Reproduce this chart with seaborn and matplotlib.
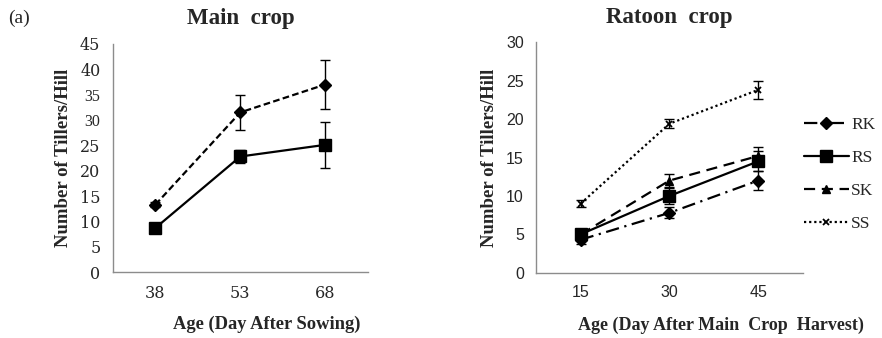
import numpy as np
import pandas as pd
import matplotlib
matplotlib.use("Agg")
import matplotlib.pyplot as plt
import seaborn as sns

# ================= DATA =================
main_days = [38, 53, 68]
main_series = ["RK", "RS"]
main_mean = {"RK": [13.3, 31.5, 37.0], "RS": [8.7, 22.8, 25.1]}
main_err = {"RK": [0.5, 3.5, 4.9], "RS": [0.4, 1.2, 4.5]}

rat_days = [15, 30, 45]
rat_series = ["RK", "RS", "SK", "SS"]
rat_mean = {"RK": [4.3, 7.8, 12.0], "RS": [5.0, 10.0, 14.5],
            "SK": [5.0, 12.0, 15.2], "SS": [9.0, 19.4, 23.8]}
rat_err = {"RK": [0.5, 0.7, 1.2], "RS": [0.4, 1.0, 1.3],
           "SK": [0.4, 0.9, 1.2], "SS": [0.5, 0.6, 1.2]}

# ================= STYLE =================
sns.set_style("white")
plt.rcParams['font.family'] = ['Liberation Serif', 'DejaVu Serif']

STYLES = {
    "RK": dict(dash=(6, 2.5, 1, 2.5), marker="D", ms=6),
    "RS": dict(dash="", marker="s", ms=9),
    "SK": dict(dash=(5, 3), marker="^", ms=6),
    "SS": dict(dash=(1, 1.3), marker="x", ms=5),
}
MAIN_DASH = {"RK": (3, 1.5), "RS": ""}


def to_long(days, series, mean):
    rows = []
    for s in series:
        for d, v in zip(days, mean[s]):
            rows.append({"day": d, "series": s, "value": v})
    return pd.DataFrame(rows)


def draw(ax, days, series, mean, err, dashes, tick_font):
    df = to_long(days, series, mean)
    sns.lineplot(data=df, x="day", y="value", hue="series", style="series",
                 palette={s: "black" for s in series},
                 dashes={s: dashes[s] for s in series},
                 linewidth=1.6, legend=False, ax=ax)
    for line, s in zip(ax.get_lines(), series):
        line.set_marker(STYLES[s]["marker"])
        line.set_markersize(STYLES[s]["ms"])
        line.set_markerfacecolor("black")
        line.set_markeredgecolor("black")
        line.set_markeredgewidth(1.3 if s == "SS" else 1.0)
    for s in series:
        ax.errorbar(days, mean[s], yerr=err[s], fmt="none", ecolor="black",
                    elinewidth=1.0, capsize=3.5, capthick=1.0)
    step = days[1] - days[0]
    ax.set_xlim(days[0] - step / 2, days[-1] + step / 2)
    ax.set_xticks(days)
    for sp in ["top", "right"]:
        ax.spines[sp].set_visible(False)
    for sp in ["left", "bottom"]:
        ax.spines[sp].set_color("#8c8c8c")
        ax.spines[sp].set_linewidth(1.0)
    ax.tick_params(axis="both", direction="out", length=4, width=1.0,
                   color="#8c8c8c", labelsize=11.5, pad=5)
    for lab in ax.get_xticklabels() + ax.get_yticklabels():
        lab.set_fontfamily(tick_font)


fig = plt.figure(figsize=(8.82, 3.38), dpi=100)
ax1 = fig.add_axes([0.128, 0.195, 0.289, 0.675])
ax2 = fig.add_axes([0.608, 0.193, 0.302, 0.682])

# --- Main crop ---
draw(ax1, main_days, main_series, main_mean, main_err, MAIN_DASH, "DejaVu Serif")
ax1.set_ylim(0, 45)
ax1.set_yticks(range(0, 46, 5))
ax1.set_title("Main  crop", fontsize=16.5, fontweight="bold", pad=14)
ax1.set_xlabel("Age (Day After Sowing)", fontsize=13.3, fontweight="bold")
ax1.set_ylabel("Number of Tillers/Hill", fontsize=13.5, fontweight="bold", labelpad=6)
ax1.xaxis.set_label_coords(0.605, -0.19)

# --- Ratoon crop ---
draw(ax2, rat_days, rat_series, rat_mean, rat_err,
     {s: STYLES[s]["dash"] for s in rat_series}, "Liberation Sans")
ax2.set_ylim(0, 30)
ax2.set_yticks(range(0, 31, 5))
ax2.set_title("Ratoon  crop", fontsize=16.5, fontweight="bold", pad=14)
ax2.set_xlabel("Age (Day After Main  Crop  Harvest)", fontsize=13, fontweight="bold")
ax2.set_ylabel("Number of Tillers/Hill", fontsize=13.5, fontweight="bold", labelpad=6)
ax2.xaxis.set_label_coords(0.695, -0.19)

handles = ax2.get_lines()[:len(rat_series)]
fig.legend(handles, rat_series, loc="upper left", bbox_to_anchor=(0.911, 0.655),
           frameon=False, fontsize=12.5, handlelength=2.6, labelspacing=0.98,
           handletextpad=0.15, borderaxespad=0, borderpad=0)

fig.text(0.009, 0.945, "(a)", fontsize=14, va="center", ha="left")

fig.savefig("out.png", dpi=100)
